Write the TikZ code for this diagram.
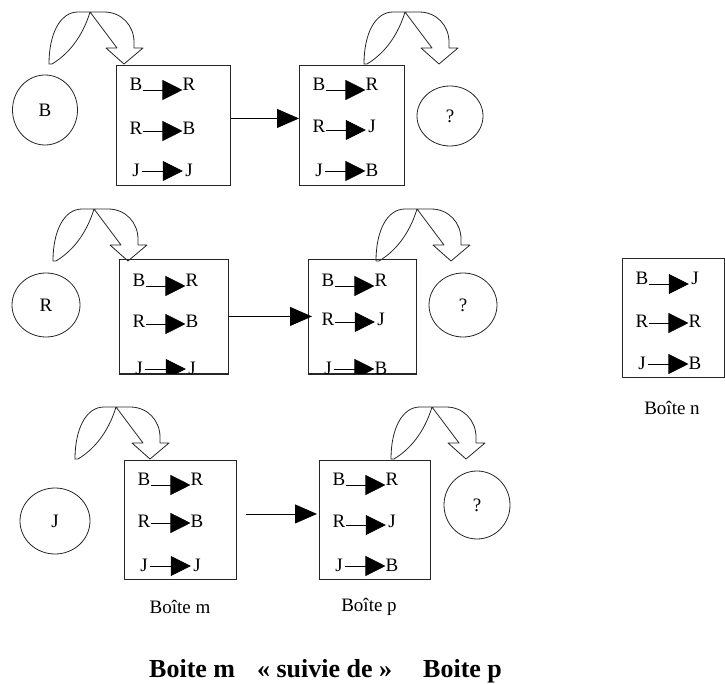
\documentclass[tikz,border=0pt]{standalone}
\usepackage{fontspec}
\setmainfont{Liberation Serif}
\usetikzlibrary{arrows.meta,shapes.geometric}
\tikzset{
  rbox/.style={draw=black!85, line width=0.9pt, inner sep=0pt, anchor=north west},
  lett/.style={inner sep=0pt, minimum width=12pt, text height=12.5pt, text depth=0pt, font=\fontsize{19}{21}\selectfont},
  inarrow/.style={line width=0.8pt, -{Triangle[length=20pt,width=20pt]}},
  bigarrow/.style={line width=0.9pt, -{Triangle[length=22pt,width=19pt]}},
  circ/.style={draw=black!85, ellipse, line width=0.8pt, inner sep=0pt, font=\fontsize{19}{21}\selectfont},
  carrow/.style={draw=black!85, line width=0.8pt, line join=round},
  lab/.style={inner sep=0pt, font=\fontsize{19}{22}\selectfont}
}
\newcommand{\rrow}[6]{%
  \node[lett] (#1l) at (#2+20,#3) {#4};
  \node[lett] (#1r) at (#2+73,#3) {#5};
  \draw[inarrow] ([yshift=-#6pt]#1l.east) -- ([yshift=-#6pt]#1r.west);
}
\newcommand{\curvarrow}[2]{%
  \begin{scope}[shift={(#1,#2)}]
    \draw[carrow] (-41,52) .. controls (-41,22) and (-30,0) .. (-12,0) -- (0,0)
      -- (14,0) .. controls (32,0) and (44,14) .. (44,30) -- (44,36) -- (53,36)
      -- (34,52) -- (16,36) -- (27,36) -- (0,0)
      .. controls (-6,20) and (-18,40) .. (-38,52) -- cycle;
  \end{scope}
}
\begin{document}
\begin{tikzpicture}[x=1pt,y=-1pt]
\useasboundingbox (0,0) rectangle (725,684);

% ---------- row 1 ----------
\node[rbox, minimum width=114pt, minimum height=120pt] (m1) at (116,65) {};
\node[rbox, minimum width=105pt, minimum height=120pt] (p1) at (299,65) {};
\rrow{m1a}{116}{84}{B}{R}{6}
\rrow{m1b}{116}{128}{R}{B}{3}
\rrow{m1c}{116}{170}{J}{J}{1}
\rrow{p1a}{299}{84}{B}{R}{6}
\rrow{p1b}{299}{126}{R}{J}{4}
\rrow{p1c}{299}{170}{J}{B}{1}
\node[circ, minimum width=65pt, minimum height=70pt] (cB) at (45,110) {B};
\node[circ, minimum width=66pt, minimum height=60pt] (q1) at (450,116) {?};
\draw[bigarrow] ([yshift=7pt]m1.east) -- ([yshift=7pt]p1.west);
\curvarrow{90}{12}
\curvarrow{405}{12}

% ---------- row 2 ----------
\node[rbox, minimum width=109pt, minimum height=114pt] (m2) at (119,259) {};
\node[rbox, minimum width=108pt, minimum height=114pt] (p2) at (308,259) {};
\draw[line width=1.8pt, black!85] (m2.south west) -- (m2.south east);
\draw[line width=1.8pt, black!85] (p2.south west) -- (p2.south east);
\rrow{m2a}{119}{280}{B}{R}{6}
\rrow{m2b}{119}{321}{R}{B}{3}
\rrow{p2a}{308}{280}{B}{R}{6}
\rrow{p2b}{308}{319}{R}{J}{3}
\begin{scope}
  \clip (m2.north west) rectangle (m2.south east);
  \rrow{m2c}{119}{368}{J}{J}{1}
\end{scope}
\begin{scope}
  \clip (p2.north west) rectangle (p2.south east);
  \rrow{p2c}{308}{368}{J}{B}{1}
\end{scope}
\node[circ, minimum width=68pt, minimum height=64pt] (cR) at (46,305) {R};
\node[circ, minimum width=68pt, minimum height=64pt] (q2) at (463,305) {?};
\draw[bigarrow] (m2.east) -- ([xshift=4pt]p2.west);
\curvarrow{94}{209}
\curvarrow{417}{209}

% ---------- row 3 ----------
\node[rbox, minimum width=112pt, minimum height=119pt] (m3) at (124,460) {};
\node[rbox, minimum width=111pt, minimum height=119pt] (p3) at (319,460) {};
\rrow{m3a}{124}{479}{B}{R}{6}
\rrow{m3b}{124}{521}{R}{B}{2}
\rrow{m3c}{124}{565}{J}{J}{1}
\rrow{p3a}{319}{479}{B}{R}{6}
\rrow{p3b}{319}{521}{R}{J}{4}
\rrow{p3c}{319}{565}{J}{B}{1}
\node[circ, minimum width=70pt, minimum height=66pt] (cJ) at (55,521) {J};
\node[circ, minimum width=66pt, minimum height=68pt] (q3) at (477,505) {?};
\draw[bigarrow] ([xshift=9pt,yshift=6pt]m3.east) -- ([xshift=-2pt,yshift=6pt]p3.west);
\curvarrow{116}{407}
\curvarrow{432}{407}
\node[lab] (lm) at (180,607) {Boîte m};
\node[lab] (lp) at (369,607) {Boîte p};

% ---------- box n ----------
\node[rbox, minimum width=102pt, minimum height=119pt] (n) at (622,258) {};
\rrow{na}{622}{278}{B}{J}{6}
\rrow{nb}{622}{321}{R}{R}{2}
\rrow{nc}{622}{363}{J}{B}{1}
\node[lab] (ln) at (672,408) {Boîte n};

% ---------- title ----------
\node[anchor=base west, inner sep=0pt, font=\bfseries\fontsize{26}{30}\selectfont] (title) at (149,677)
  {Boite m\hspace{22pt}« suivie de »\hspace{31pt}Boite p};
\end{tikzpicture}
\end{document}
